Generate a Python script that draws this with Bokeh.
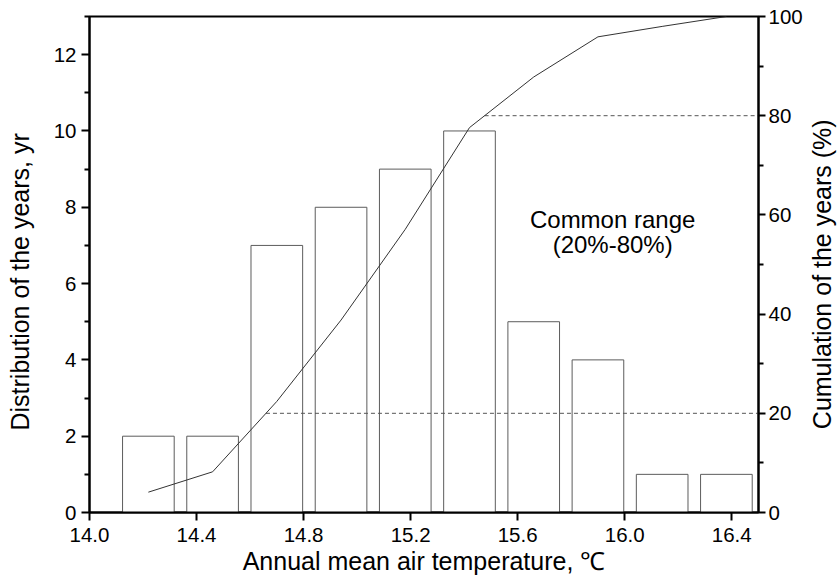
import math
import numpy as np
from bokeh.plotting import figure
from bokeh.layouts import row
from bokeh.models import Range1d, LinearAxis, FixedTicker, NumeralTickFormatter
from bokeh.embed import file_html
from bokeh.resources import INLINE
from bokeh.core.properties import value

# Histogram of annual mean air temperature (bin centres, °C) and year counts
temp_bins = [14.22, 14.46, 14.70, 14.94, 15.18, 15.42, 15.66, 15.90, 16.14, 16.38]
year_counts = [2, 2, 7, 8, 9, 10, 5, 4, 1, 1]
# Cumulative share of years (%)
cum_percent = [4.1, 8.2, 22.4, 38.8, 57.1, 77.6, 87.8, 95.9, 98.0, 100.0]
# Common-range bounds (%)
range_bounds = [20, 80]

x_ticks = [14.0, 14.4, 14.8, 15.2, 15.6, 16.0, 16.4]
left_ticks = [0, 2, 4, 6, 8, 10, 12]
left_minor = [1, 3, 5, 7, 9, 11, 13]
right_ticks = [0, 20, 40, 60, 80, 100]
right_minor = [10, 30, 50, 70, 90]

FONT = "Liberation Sans"
PAD = "\u00a0" * 5  # keeps the rotated title a little below the frame centre

p = figure(width=805, height=585, output_backend="svg", toolbar_location=None,
           x_range=Range1d(14.0, 16.5), y_range=Range1d(0, 13),
           min_border_left=89, min_border_right=46, min_border_top=16, min_border_bottom=73)
p.extra_y_ranges = {"cum": Range1d(0, 100)}
p.xgrid.visible = False
p.ygrid.visible = False
p.outline_line_color = "black"
p.outline_line_width = 2
p.background_fill_color = "white"
p.border_fill_color = "white"

# Bars
p.vbar(x=temp_bins, top=year_counts, width=0.193, bottom=0,
       fill_color="white", line_color="#5c5c5c", line_width=1)

# Dashed guides at 20% and 80% from the curve to the right axis
cross_x = np.interp(range_bounds, cum_percent, temp_bins)
for cx, b in zip(cross_x, range_bounds):
    p.line(x=[cx, 16.5], y=[b, b], y_range_name="cum",
           line_color="#555555", line_width=1, line_dash="4 3")

# Cumulative curve
p.line(x=temp_bins, y=cum_percent, y_range_name="cum", line_color="#333333", line_width=1)

# Annotation
p.text(x=[15.955, 15.955], y=[7.69, 7.03], text=["Common range", "(20%-80%)"],
       text_font=value(FONT), text_font_size="24px", text_color="black",
       text_align="center", text_baseline="alphabetic")

def style_axis(ax, label):
    ax.axis_label = label
    ax.axis_label_text_font = FONT
    ax.axis_label_text_font_size = "25px"
    ax.axis_label_text_font_style = "normal"
    ax.axis_label_text_color = "black"
    ax.major_label_text_font = FONT
    ax.major_label_text_font_size = "20.5px"
    ax.major_label_text_color = "black"
    ax.axis_line_width = 2
    ax.axis_line_color = "black"
    ax.major_tick_line_width = 2
    ax.minor_tick_line_width = 2
    ax.major_tick_out = 8
    ax.major_tick_in = 0
    ax.minor_tick_out = 5
    ax.minor_tick_in = 0

xa = p.xaxis[0]
xa.ticker = FixedTicker(ticks=x_ticks, minor_ticks=[])
xa.formatter = NumeralTickFormatter(format="0.0")
style_axis(xa, "Annual mean air temperature, \u2103")
xa.major_label_standoff = 7
xa.axis_label_standoff = 2

ya = p.yaxis[0]
ya.ticker = FixedTicker(ticks=left_ticks, minor_ticks=left_minor)
style_axis(ya, "Distribution of the years, yr" + PAD)
ya.major_label_standoff = 5
ya.axis_label_standoff = 17

ra = LinearAxis(y_range_name="cum")
ra.ticker = FixedTicker(ticks=right_ticks, minor_ticks=right_minor)
style_axis(ra, None)
ra.major_tick_out = 7
ra.major_label_standoff = 3
p.add_layout(ra, "right")

# Narrow strip holding the right-hand title, reading bottom to top
t = figure(width=32, height=585, output_backend="svg", toolbar_location=None,
           x_range=Range1d(0, 32), y_range=Range1d(0, 585),
           x_axis_location=None, y_axis_location=None,
           min_border_left=0, min_border_right=0, min_border_top=0, min_border_bottom=0)
t.xgrid.visible = False
t.ygrid.visible = False
t.outline_line_color = None
t.background_fill_color = "white"
t.border_fill_color = "white"
t.text(x=[16], y=[281], text=["Cumulation of the years (%)"], angle=math.pi / 2,
       text_font=value(FONT), text_font_size="25px", text_color="black",
       text_align="center", text_baseline="middle")

layout = row(p, t, spacing=0)
open("out.html", "w").write(file_html(layout, INLINE))
